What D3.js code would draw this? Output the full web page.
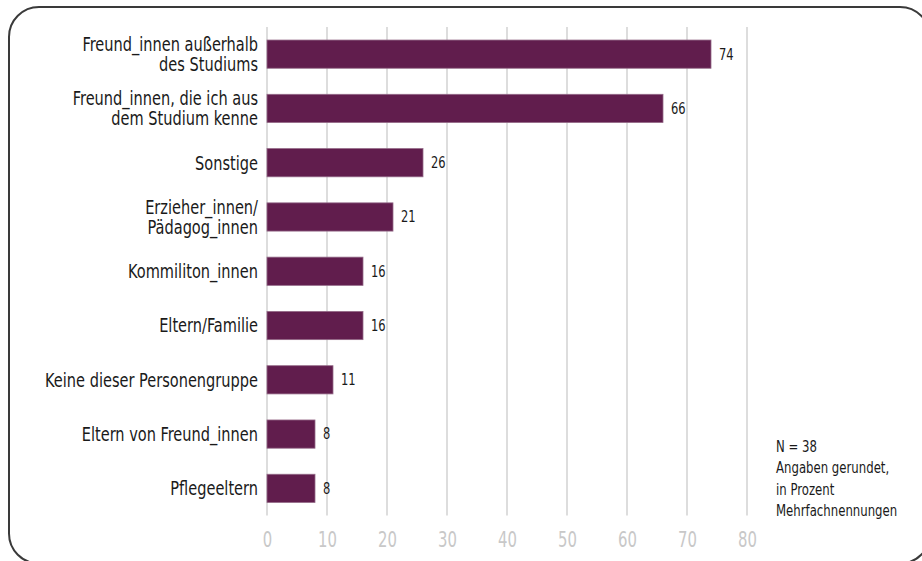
<!DOCTYPE html>
<html><head><meta charset="utf-8">
<script src="https://cdn.jsdelivr.net/npm/d3@7"></script>
<style>
body{margin:0;background:#fff}
svg{display:block}
text{font-family:"DejaVu Sans Condensed","Liberation Sans Narrow",sans-serif}
</style>
</head><body>
<svg id="c" width="922" height="561"></svg>
<script>
const categories = [
  ["Freund_innen außerhalb","des Studiums"],
  ["Freund_innen, die ich aus","dem Studium kenne"],
  ["Sonstige"],
  ["Erzieher_innen/","Pädagog_innen"],
  ["Kommiliton_innen"],
  ["Eltern/Familie"],
  ["Keine dieser Personengruppe"],
  ["Eltern von Freund_innen"],
  ["Pflegeeltern"]
];
const values = [74,66,26,21,16,16,11,8,8];
const tickValues = [0,10,20,30,40,50,60,70,80];
const notes = ["N = 38","Angaben gerundet,","in Prozent","Mehrfachnennungen"];

const svg = d3.select("#c");

function squeeze(sel, s){
  sel.each(function(){
    const t = d3.select(this);
    const x0 = +t.attr("x") || 0;
    t.attr("transform", `translate(${x0},0) scale(${s},1) translate(${-x0},0)`);
  });
}

// frame
svg.append("rect")
  .attr("x",9).attr("y",7).attr("width",921).attr("height",556.5)
  .attr("rx",30).attr("ry",30)
  .attr("fill","none").attr("stroke","#3a3a3a").attr("stroke-width",2);

const x = d3.scaleLinear().domain([0,80]).range([267,747]);
const idx = d3.range(categories.length);
const y = d3.scaleBand().domain(idx).range([27,515.5]).paddingInner(0.48).paddingOuter(0.24);

// grid
svg.append("g").selectAll("line").data(tickValues).join("line")
  .attr("x1",d=>x(d)).attr("x2",d=>x(d))
  .attr("y1",27).attr("y2",515.5)
  .attr("stroke","#d2d2d2").attr("stroke-width",1.5);

// axis labels
const axis = d3.axisBottom(x).tickValues(tickValues).tickSize(0).tickPadding(0);
const ag = svg.append("g").attr("transform","translate(0,531)").call(axis);
ag.select(".domain").remove();
ag.selectAll("text").attr("font-size",22).attr("fill","#c8c8c8")
  .attr("font-family",'"DejaVu Sans Condensed",sans-serif')
  .attr("dy","0.71em")
  .attr("transform","scale(0.75,1)");

// bars
svg.append("g").selectAll("rect").data(idx).join("rect")
  .attr("x",x(0)).attr("y",i=>y(i))
  .attr("width",i=>x(values[i])-x(0)).attr("height",y.bandwidth())
  .attr("fill","#611d4d").attr("stroke","#946a88").attr("stroke-width",0.8);

// category labels
const lh = 20;
const labels = svg.append("g").selectAll("text").data(idx).join("text")
  .attr("x",258).attr("text-anchor","end").attr("font-size",19).attr("fill","#1a1a1a")
  .attr("y",i=>y(i)+y.bandwidth()/2 - (categories[i].length-1)*lh/2);
labels.selectAll("tspan").data(i=>categories[i].map((t,k)=>({t,k}))).join("tspan")
  .attr("x",258).attr("dy",d=>d.k===0?"0.36em":lh).text(d=>d.t);

// compute squeeze factor from longest single label
let maxW = 0;
labels.each(function(i){ if(categories[i][0]==="Keine dieser Personengruppe") maxW = this.getComputedTextLength(); });
const s = maxW ? 213/maxW : 0.85;
squeeze(labels, s);

// value labels
const vals = svg.append("g").selectAll("text").data(idx).join("text")
  .attr("x",i=>x(values[i])+8).attr("y",i=>y(i)+y.bandwidth()/2)
  .attr("dy","0.36em").attr("font-size",15).attr("fill","#1a1a1a")
  .text(i=>values[i]);
squeeze(vals, s);

// notes
const nt = svg.append("g").selectAll("text").data(notes).join("text")
  .attr("x",776).attr("y",(d,i)=>452+i*21.3)
  .attr("font-size",15.3).attr("fill","#1a1a1a").text(d=>d);
squeeze(nt, s);
</script>
</body></html>
